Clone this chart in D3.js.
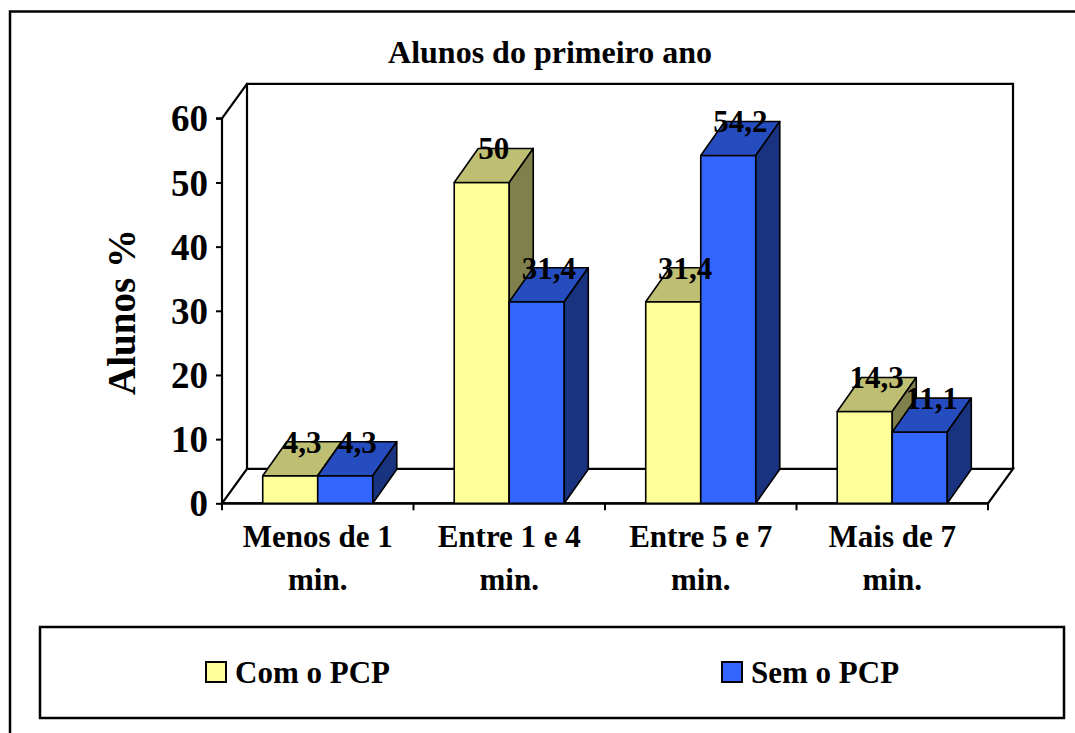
<!DOCTYPE html>
<html>
<head>
<meta charset="utf-8">
<script src="https://cdn.jsdelivr.net/npm/d3@7"></script>
<style>
  html, body { margin: 0; padding: 0; background: #fff; }
  svg { display: block; }
  text { font-family: "Liberation Serif", "Times New Roman", serif; font-weight: bold; fill: #000; }
</style>
</head>
<body>
<script>
// Time categories (two label lines each)
const categories = ["Menos de 1 min.", "Entre 1 e 4 min.", "Entre 5 e 7 min.", "Mais de 7 min."];
const categoryLines = [["Menos de 1", "min."], ["Entre 1 e 4", "min."], ["Entre 5 e 7", "min."], ["Mais de 7", "min."]];
const seriesNames = ["Com o PCP", "Sem o PCP"];
const comPCP = [4.3, 50, 31.4, 14.3];
const semPCP = [4.3, 31.4, 54.2, 11.1];
const yTicks = [0, 10, 20, 30, 40, 50, 60];

const W = 1075, H = 733;
const svg = d3.select("body").append("svg").attr("width", W).attr("height", H);

// face colours per series: front, top, side
const palette = {
  "Com o PCP": { front: "#FFFF99", top: "#BFBF73", side: "#80804D" },
  "Sem o PCP": { front: "#3366FF", top: "#264DBF", side: "#1A3380" }
};

// outer chart frame
svg.append("rect").attr("x", 10).attr("y", 11.5).attr("width", 1100).attr("height", 760)
  .attr("fill", "none").attr("stroke", "#000").attr("stroke-width", 2.5);

// title
svg.append("text").attr("x", 550).attr("y", 63).attr("text-anchor", "middle")
  .style("font-size", "32px").text("Alunos do primeiro ano");

// plot scales
const x0 = 222, x1 = 988;
const y = d3.scaleLinear().domain([0, 60]).range([503.3, 118.3]);
const xBand = d3.scaleBand().domain(categories).range([x0, x1]).padding(0);
const xInner = d3.scaleBand().domain(seriesNames).range([0, xBand.bandwidth()])
  .paddingInner(0).paddingOuter(0.74);

// wall depth and bar depth
const wdx = 25, wdy = 34.5;
const bdx = 24, bdy = 34;

const walls = svg.append("g").attr("fill", "none").attr("stroke", "#000").attr("stroke-width", 2.2)
  .attr("stroke-linejoin", "miter");
const yTop = y(60), yBot = y(0);
// back wall
walls.append("path").attr("d",
  `M${x0 + wdx},${yBot - wdy} L${x0 + wdx},${yTop - wdy} L${x1 + wdx},${yTop - wdy} L${x1 + wdx},${yBot - wdy}`);
// floor
walls.append("path").attr("d",
  `M${x0},${yBot} L${x0 + wdx},${yBot - wdy} L${x1 + wdx},${yBot - wdy} L${x1},${yBot} Z`);
// side wall top edge
walls.append("path").attr("d", `M${x0},${yTop} L${x0 + wdx},${yTop - wdy}`);

// y axis (front edge of left wall)
const yAxis = d3.axisLeft(y).tickValues(yTicks).tickSize(6).tickPadding(8).tickFormat(d3.format("d"));
const gy = svg.append("g").attr("transform", `translate(${x0},0)`).call(yAxis);
gy.select(".domain").attr("stroke", "#000").attr("stroke-width", 2.2).attr("d", `M-6,${yTop}H0V${yBot}`);
gy.selectAll(".tick line").attr("stroke", "#000").attr("stroke-width", 2);
gy.selectAll(".tick text").attr("font-family", null).attr("fill", "#000")
  .style("font-size", "37px").attr("dy", "0.34em");

// x axis boundary ticks
const boundaries = categories.map(c => xBand(c)).concat([x1]);
svg.append("g").selectAll("line").data(boundaries).join("line")
  .attr("x1", d => d).attr("x2", d => d).attr("y1", yBot).attr("y2", yBot + 7)
  .attr("stroke", "#000").attr("stroke-width", 2);
svg.append("line").attr("x1", x0).attr("x2", x1).attr("y1", yBot).attr("y2", yBot)
  .attr("stroke", "#000").attr("stroke-width", 2.2);

// category labels
const catG = svg.append("g").attr("text-anchor", "middle").style("font-size", "31px");
categoryLines.forEach((lines, i) => {
  const cx = xBand(categories[i]) + xBand.bandwidth() / 2;
  const t = catG.append("text").attr("x", cx).attr("y", 547);
  lines.forEach((ln, j) => t.append("tspan").attr("x", cx).attr("dy", j === 0 ? 0 : 43).text(ln));
});

// y-axis title
svg.append("text").attr("transform", "translate(135,312) rotate(-90)")
  .attr("text-anchor", "middle").style("font-size", "39px").text("Alunos %");

// 3D bars
const rows = [];
categories.forEach((c, i) => {
  rows.push({ cat: c, s: "Com o PCP", v: comPCP[i] });
  rows.push({ cat: c, s: "Sem o PCP", v: semPCP[i] });
});

const barG = svg.append("g").attr("stroke", "#000").attr("stroke-width", 1.6).attr("stroke-linejoin", "round");
rows.forEach(r => {
  const bx = xBand(r.cat) + xInner(r.s);
  const bw = xInner.bandwidth();
  const yt = y(r.v), yb = y(0);
  const col = palette[r.s];
  const g = barG.append("g");
  g.append("path").attr("fill", col.front)
    .attr("d", `M${bx},${yb} L${bx},${yt} L${bx + bw},${yt} L${bx + bw},${yb} Z`);
  g.append("path").attr("fill", col.top)
    .attr("d", `M${bx},${yt} L${bx + bdx},${yt - bdy} L${bx + bw + bdx},${yt - bdy} L${bx + bw},${yt} Z`);
  g.append("path").attr("fill", col.side)
    .attr("d", `M${bx + bw},${yb} L${bx + bw},${yt} L${bx + bw + bdx},${yt - bdy} L${bx + bw + bdx},${yb - bdy} Z`);
});

// value labels
const fmt = v => String(v).replace(".", ",");
svg.append("g").attr("text-anchor", "middle").style("font-size", "31px")
  .selectAll("text").data(rows).join("text")
  .attr("x", d => xBand(d.cat) + xInner(d.s) + xInner.bandwidth() / 2 + bdx / 2)
  .attr("y", d => y(d.v) - bdy)
  .attr("dy", "0.35em")
  .text(d => fmt(d.v));

// legend
const lg = svg.append("g");
lg.append("rect").attr("x", 40).attr("y", 627).attr("width", 1024).attr("height", 91)
  .attr("fill", "#fff").attr("stroke", "#000").attr("stroke-width", 2.5);
const legendX = { "Com o PCP": 206, "Sem o PCP": 722 };
seriesNames.forEach(s => {
  const lx = legendX[s];
  lg.append("rect").attr("x", lx).attr("y", 662).attr("width", 20).attr("height", 20)
    .attr("fill", palette[s].front).attr("stroke", "#000").attr("stroke-width", 2);
  lg.append("text").attr("x", lx + 29).attr("y", 683).style("font-size", "31px").text(s);
});
</script>
</body>
</html>
